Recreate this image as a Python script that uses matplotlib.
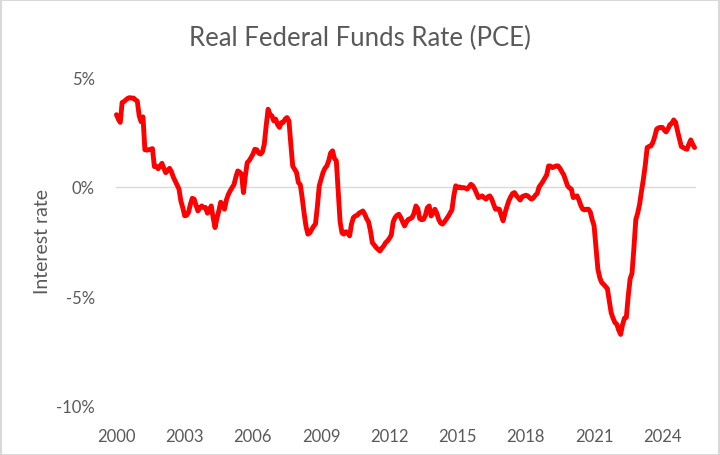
import matplotlib
matplotlib.use("Agg")
import matplotlib.pyplot as plt
from matplotlib.patches import Rectangle

# Monthly real federal funds rate (PCE), Jan 2000 - Jun 2025, in percent
rate_2000 = [3.30, 3.10, 2.95, 3.86, 3.90, 3.98, 4.05, 4.08, 4.06, 4.06, 3.98, 3.92]
rate_2001 = [3.25, 2.98, 3.20, 1.70, 1.68, 1.70, 1.72, 1.75, 0.93, 0.95, 0.83, 0.95]
rate_2002 = [1.08, 0.85, 0.65, 0.75, 0.85, 0.70, 0.45, 0.27, 0.10, -0.10, -0.65, -0.95]
rate_2003 = [-1.32, -1.30, -1.17, -0.80, -0.52, -0.56, -0.85, -1.10, -0.95, -0.87, -0.95, -0.94]
rate_2004 = [-1.20, -1.05, -0.87, -1.40, -1.86, -1.45, -1.10, -0.70, -0.80, -1.02, -0.60, -0.35]
rate_2005 = [-0.18, -0.03, 0.10, 0.45, 0.73, 0.68, 0.58, -0.26, 0.50, 1.11, 1.20, 1.34]
rate_2006 = [1.50, 1.72, 1.70, 1.55, 1.50, 1.60, 1.95, 2.80, 3.55, 3.30, 3.25, 3.02]
rate_2007 = [3.10, 2.85, 2.72, 2.94, 2.95, 3.10, 3.17, 3.02, 1.95, 0.95, 0.80, 0.66]
rate_2008 = [0.20, 0.10, -0.50, -1.20, -1.80, -2.16, -2.10, -1.95, -1.80, -1.70, -0.90, 0.05]
rate_2009 = [0.35, 0.66, 0.85, 0.96, 1.20, 1.55, 1.65, 1.30, 1.19, -0.20, -1.60, -2.10]
rate_2010 = [-2.16, -2.05, -2.09, -2.24, -1.70, -1.40, -1.33, -1.30, -1.20, -1.15, -1.10, -1.25]
rate_2011 = [-1.45, -1.60, -2.00, -2.55, -2.65, -2.77, -2.85, -2.93, -2.80, -2.70, -2.55, -2.47]
rate_2012 = [-2.35, -2.20, -1.60, -1.40, -1.30, -1.25, -1.40, -1.60, -1.78, -1.60, -1.48, -1.45]
rate_2013 = [-1.40, -1.20, -0.87, -1.00, -1.45, -1.50, -1.48, -1.30, -0.95, -0.87, -1.33, -1.20]
rate_2014 = [-1.02, -1.20, -1.48, -1.65, -1.70, -1.60, -1.48, -1.35, -1.20, -1.05, -0.40, 0.05]
rate_2015 = [-0.03, 0.00, -0.05, -0.03, -0.05, -0.10, 0.00, 0.12, 0.05, -0.10, -0.30, -0.49]
rate_2016 = [-0.45, -0.41, -0.50, -0.56, -0.45, -0.41, -0.56, -0.80, -1.02, -1.00, -1.02, -1.30]
rate_2017 = [-1.55, -1.20, -0.90, -0.64, -0.45, -0.30, -0.26, -0.40, -0.50, -0.60, -0.45, -0.41]
rate_2018 = [-0.38, -0.41, -0.50, -0.56, -0.50, -0.38, -0.30, 0.00, 0.12, 0.25, 0.40, 0.55]
rate_2019 = [0.96, 0.95, 0.88, 0.92, 0.96, 0.96, 0.85, 0.69, 0.55, 0.30, 0.05, -0.05]
rate_2020 = [-0.10, -0.49, -0.45, -0.41, -0.60, -0.85, -1.02, -1.05, -1.02, -1.02, -1.15, -1.50]
rate_2021 = [-1.78, -2.80, -3.76, -4.15, -4.37, -4.45, -4.55, -4.65, -5.20, -5.75, -6.00, -6.20]
rate_2022 = [-6.28, -6.55, -6.74, -6.30, -6.00, -5.97, -5.00, -4.20, -3.95, -2.80, -1.50, -1.20]
rate_2023 = [-0.80, -0.20, 0.35, 1.00, 1.80, 1.85, 1.87, 2.03, 2.30, 2.64, 2.70, 2.72]
rate_2024 = [2.72, 2.60, 2.51, 2.65, 2.85, 2.90, 3.06, 2.95, 2.56, 2.20, 1.85, 1.80]
rate_2025 = [1.75, 1.72, 1.95, 2.15, 1.95, 1.80]

series = (rate_2000 + rate_2001 + rate_2002 + rate_2003 + rate_2004 + rate_2005 +
          rate_2006 + rate_2007 + rate_2008 + rate_2009 + rate_2010 + rate_2011 +
          rate_2012 + rate_2013 + rate_2014 + rate_2015 + rate_2016 + rate_2017 +
          rate_2018 + rate_2019 + rate_2020 + rate_2021 + rate_2022 + rate_2023 +
          rate_2024 + rate_2025)

tick_years = ["2000", "2003", "2006", "2009", "2012", "2015", "2018", "2021", "2024"]
y_ticks = [5, 0, -5, -10]
y_tick_labels = ["5%", "0%", "-5%", "-10%"]

plt.rcParams['font.family'] = ['Lato', 'DejaVu Sans']
TXT = '#595959'

W, H = 720, 456
fig = plt.figure(figsize=(W / 100, H / 100), dpi=100)
left, right = 115.5, 695.5
top, bottom = 78.5, 406.7
ax = fig.add_axes([left / W, 1 - bottom / H, (right - left) / W, (bottom - top) / H])

x = list(range(len(series)))
ax.axhline(0, color='#D9D9D9', lw=1.0, zorder=1)
ax.plot(x, series, color='#FF0000', lw=3.5, solid_joinstyle='round',
        solid_capstyle='round', zorder=3, clip_on=False)

ax.set_xlim(-0.5, len(series) - 0.5)
ax.set_ylim(-10, 5)
ax.set_xticks([i * 36 for i in range(len(tick_years))])
ax.set_xticklabels(tick_years)
ax.set_yticks(y_ticks)
ax.set_yticklabels(y_tick_labels)
ax.tick_params(axis='both', length=0, labelsize=12, labelcolor=TXT)
ax.tick_params(axis='y', pad=15)
ax.tick_params(axis='x', pad=16)
for s in ax.spines.values():
    s.set_visible(False)

fig.text(0.5, 1 - 38 / H, "Real Federal Funds Rate (PCE)", ha='center', va='center',
         fontsize=18.5, color=TXT)
fig.text(42 / W, 1 - 241.5 / H, "Interest rate", rotation=90, ha='center', va='center',
         fontsize=14, color=TXT)

fig.patches.append(Rectangle((0.5 / W, 0.5 / H), 1 - 1.5 / W, 1 - 1.5 / H,
                             transform=fig.transFigure, fill=False,
                             edgecolor='#D9D9D9', lw=1.5))

fig.savefig("out.png", dpi=100)
